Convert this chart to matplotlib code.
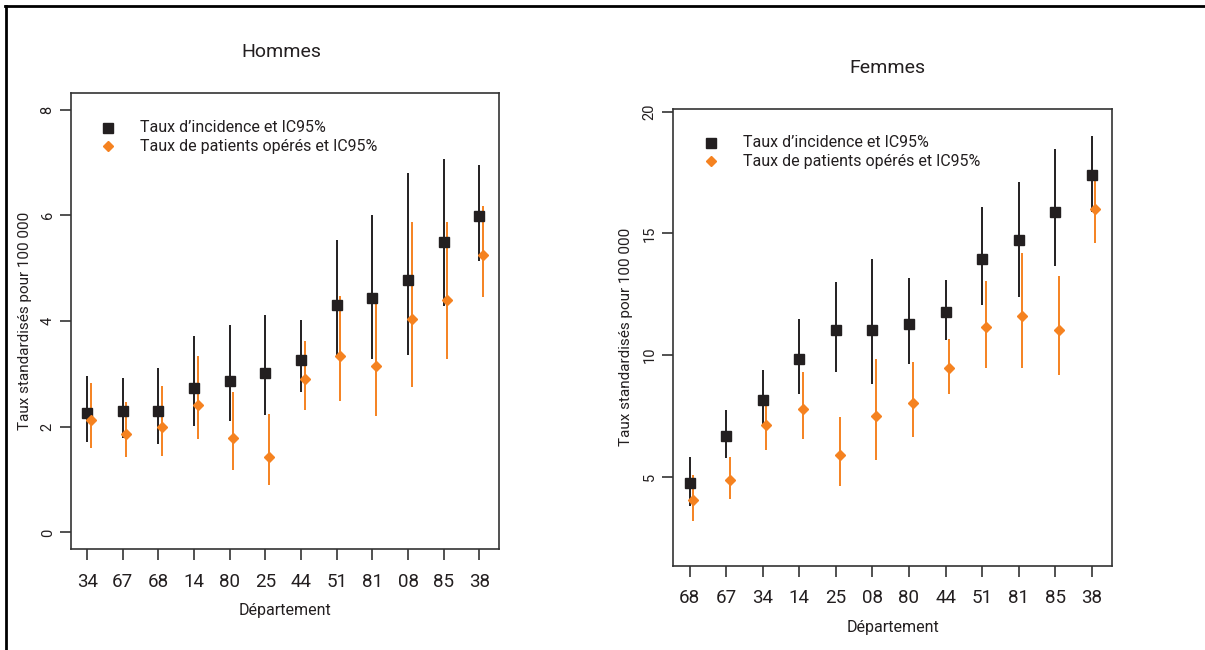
import numpy as np
import matplotlib
matplotlib.use('Agg')
import matplotlib.pyplot as plt
from matplotlib.lines import Line2D

plt.rcParams['font.family'] = ['Roboto', 'DejaVu Sans']

# Hommes
dep_h = ['34', '67', '68', '14', '80', '25', '44', '51', '81', '08', '85', '38']
inc_h = [2.25, 2.29, 2.29, 2.73, 2.87, 3.02, 3.27, 4.31, 4.44, 4.78, 5.49, 5.98]
inc_h_lo = [1.71, 1.78, 1.67, 2.01, 2.11, 2.22, 2.66, 3.35, 3.28, 3.36, 4.28, 5.14]
inc_h_hi = [2.95, 2.93, 3.11, 3.71, 3.92, 4.11, 4.01, 5.54, 6.00, 6.80, 7.06, 6.96]
op_h = [2.12, 1.87, 2.00, 2.42, 1.78, 1.42, 2.90, 3.34, 3.14, 4.03, 4.40, 5.24]
op_h_lo = [1.60, 1.42, 1.44, 1.76, 1.19, 0.89, 2.31, 2.48, 2.20, 2.75, 3.29, 4.46]
op_h_hi = [2.82, 2.46, 2.77, 3.33, 2.65, 2.24, 3.62, 4.48, 4.48, 5.88, 5.87, 6.18]

# Femmes
dep_f = ['68', '67', '34', '14', '25', '08', '80', '44', '51', '81', '85', '38']
inc_f = [4.73, 6.66, 8.14, 9.82, 11.01, 11.05, 11.26, 11.79, 13.95, 14.73, 15.88, 17.40]
inc_f_lo = [3.81, 5.75, 7.08, 8.41, 9.32, 8.79, 9.62, 10.62, 12.07, 12.38, 13.66, 15.90]
inc_f_hi = [5.82, 7.74, 9.38, 11.47, 12.99, 13.93, 13.18, 13.08, 16.07, 17.12, 18.48, 19.00]
op_f = [4.04, 4.88, 7.12, 7.79, 5.88, 7.49, 8.03, 9.47, 11.14, 11.60, 11.05, 16.01]
op_f_lo = [3.19, 4.10, 6.11, 6.53, 4.63, 5.68, 6.64, 8.41, 9.45, 9.45, 9.19, 14.59]
op_f_hi = [5.08, 5.81, 8.32, 9.30, 7.45, 9.84, 9.70, 10.66, 13.05, 14.19, 13.26, 17.58]

BLACK = '#231F20'
ORANGE = '#F58220'
TXT = '#231F20'

fig = plt.figure(figsize=(12.05, 6.5), dpi=100)


def panel(rect, deps, inc, inc_lo, inc_hi, op, op_lo, op_hi, ylim, yticks, title, title_xy, leg_y):
    ax = fig.add_axes(rect)
    x = np.arange(1, len(deps) + 1)
    xo = x + 0.1
    ax.vlines(x, inc_lo, inc_hi, color=BLACK, lw=1.4)
    ax.vlines(xo, op_lo, op_hi, color=ORANGE, lw=1.4)
    ax.plot(x, inc, 's', color=BLACK, ms=7, zorder=3)
    ax.plot(xo, op, 'D', color=ORANGE, ms=5.5, zorder=3)
    ax.set_xlim(1 - 0.444, 12.1 + 0.444)
    ax.set_ylim(*ylim)
    ax.set_xticks(x)
    ax.set_xticklabels(deps)
    ax.set_yticks(yticks)
    ax.tick_params(axis='x', direction='out', length=8, width=1.2, pad=9,
                   labelsize=13.5, color='#333333', labelcolor=TXT)
    ax.tick_params(axis='y', direction='out', length=8, width=1.2, pad=4,
                   labelsize=10.5, labelrotation=90, color='#333333', labelcolor=TXT)
    for lab in ax.get_yticklabels():
        lab.set_va('center')
    for s in ax.spines.values():
        s.set_linewidth(1.2)
        s.set_color('#333333')
    ax.set_xlabel('Département', fontsize=11.5, color=TXT)
    ax.xaxis.set_label_coords(0.5, -0.135)
    ax.xaxis.label.set_va('center')
    ax.set_ylabel('Taux standardisés pour 100 000', fontsize=11, color=TXT)
    ax.yaxis.set_label_coords(-0.108, 0.5)
    ax.yaxis.label.set_va('center')
    fig.text(title_xy[0], title_xy[1], title, fontsize=14, ha='center', va='center', color=TXT)
    # legend
    ax.plot([0.085], [leg_y[0]], 's', color=BLACK, ms=7, transform=ax.transAxes, clip_on=False)
    ax.plot([0.085], [leg_y[1]], 'D', color=ORANGE, ms=5.5, transform=ax.transAxes, clip_on=False)
    ax.text(0.16, leg_y[0], 'Taux d\u2019incidence et IC95%', transform=ax.transAxes,
            fontsize=11.5, va='center', color=TXT)
    ax.text(0.16, leg_y[1], 'Taux de patients opérés et IC95%', transform=ax.transAxes,
            fontsize=11.5, va='center', color=TXT)
    return ax


panel([0.0592, 0.1549, 0.3547, 0.7025], dep_h, inc_h, inc_h_lo, inc_h_hi,
      op_h, op_h_lo, op_h_hi, (-0.32, 8.32), [0, 2, 4, 6, 8],
      'Hommes', (281 / 1205, 1 - 52 / 650), (0.923, 0.883))
panel([0.5588, 0.1297, 0.3638, 0.7031], dep_f, inc_f, inc_f_lo, inc_f_hi,
      op_f, op_f_lo, op_f_hi, (1.34, 20.13), [5, 10, 15, 20],
      'Femmes', (887 / 1205, 1 - 68 / 650), (0.925, 0.885))

# outer frame (top and left only)
fig.add_artist(Line2D([5 / 1205, 1.0], [1 - 5.5 / 650, 1 - 5.5 / 650], color='black', lw=2, transform=fig.transFigure))
fig.add_artist(Line2D([6 / 1205, 6 / 1205], [0, 1 - 5.5 / 650], color='black', lw=2, transform=fig.transFigure))

fig.savefig('out.png', dpi=100, facecolor='white')
